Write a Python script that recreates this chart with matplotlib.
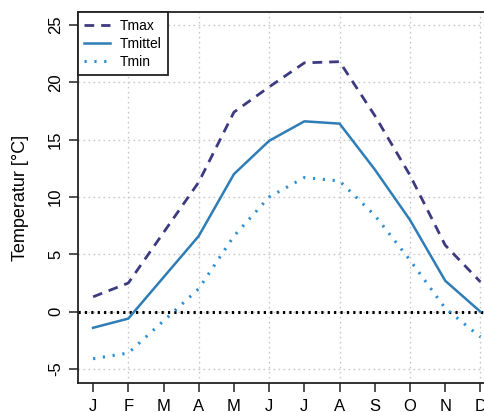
import matplotlib
matplotlib.use("Agg")
import matplotlib.pyplot as plt
import numpy as np

plt.rcParams['font.family'] = ['Liberation Sans', 'DejaVu Sans']
plt.rcParams['lines.scale_dashes'] = False

# Monatswerte
monate = ['J', 'F', 'M', 'A', 'M', 'J', 'J', 'A', 'S', 'O', 'N', 'D']
tmax = [1.3, 2.5, 6.9, 11.3, 17.4, 19.6, 21.7, 21.8, 17.1, 11.9, 5.8, 2.6]
tmittel = [-1.4, -0.6, 3.0, 6.6, 12.0, 14.9, 16.6, 16.4, 12.4, 8.0, 2.7, 0.0]
tmin = [-4.1, -3.6, -0.8, 2.0, 6.6, 10.0, 11.7, 11.4, 8.4, 4.5, 0.3, -2.2]
ytick_werte = [-5, 0, 5, 10, 15, 20, 25]

x = np.arange(len(monate))

fig = plt.figure(figsize=(4.85, 4.12), dpi=100)
ax = fig.add_axes([0.160, 0.0711, 0.8625, 0.8986])

# Gitter (nur jeder zweite Monat)
for xv in x[1::2]:
    ax.axvline(xv, color='#c8c8c8', lw=1.0, dashes=(1.2, 2.4), zorder=0)
for yv in ytick_werte:
    ax.axhline(yv, color='#c8c8c8', lw=1.0, dashes=(1.2, 2.4), zorder=0)

ax.axhline(0, color='black', lw=2.2, dashes=(1.6, 3.0), zorder=1)

ax.plot(x, tmax, color='#3d3a80', lw=2.0, dashes=(7, 5), label='Tmax', zorder=3)
ax.plot(x, tmittel, color='#2e7db6', lw=1.8, label='Tmittel', zorder=3)
ax.plot(x, tmin, color='#2f8fd6', lw=2.2, dashes=(1.6, 5.5), label='Tmin', zorder=3)

ax.set_xlim(-0.44, 11.44)
ax.set_ylim(-6.19, 26.09)
ax.set_xticks(x)
ax.set_xticklabels(monate)
ax.set_yticks(ytick_werte)
ax.set_yticklabels([str(v) for v in ytick_werte], rotation=90, va='center')
ax.tick_params(axis='both', labelsize=12, length=6.5, width=1.1, color='#222222')
ax.tick_params(axis='x', pad=5)
ax.tick_params(axis='y', pad=4)

for sp in ax.spines.values():
    sp.set_linewidth(1.3)
    sp.set_color('#222222')

ax.set_ylabel('Temperatur [°C]', fontsize=13, labelpad=14)

leg = ax.legend(loc='upper left', borderaxespad=0, fontsize=10, fancybox=False,
                framealpha=1, edgecolor='#222222', handlelength=1.9,
                handletextpad=0.7, labelspacing=0.3, borderpad=0.45)
leg.get_frame().set_linewidth(1.3)

fig.savefig('out.png', dpi=100)
